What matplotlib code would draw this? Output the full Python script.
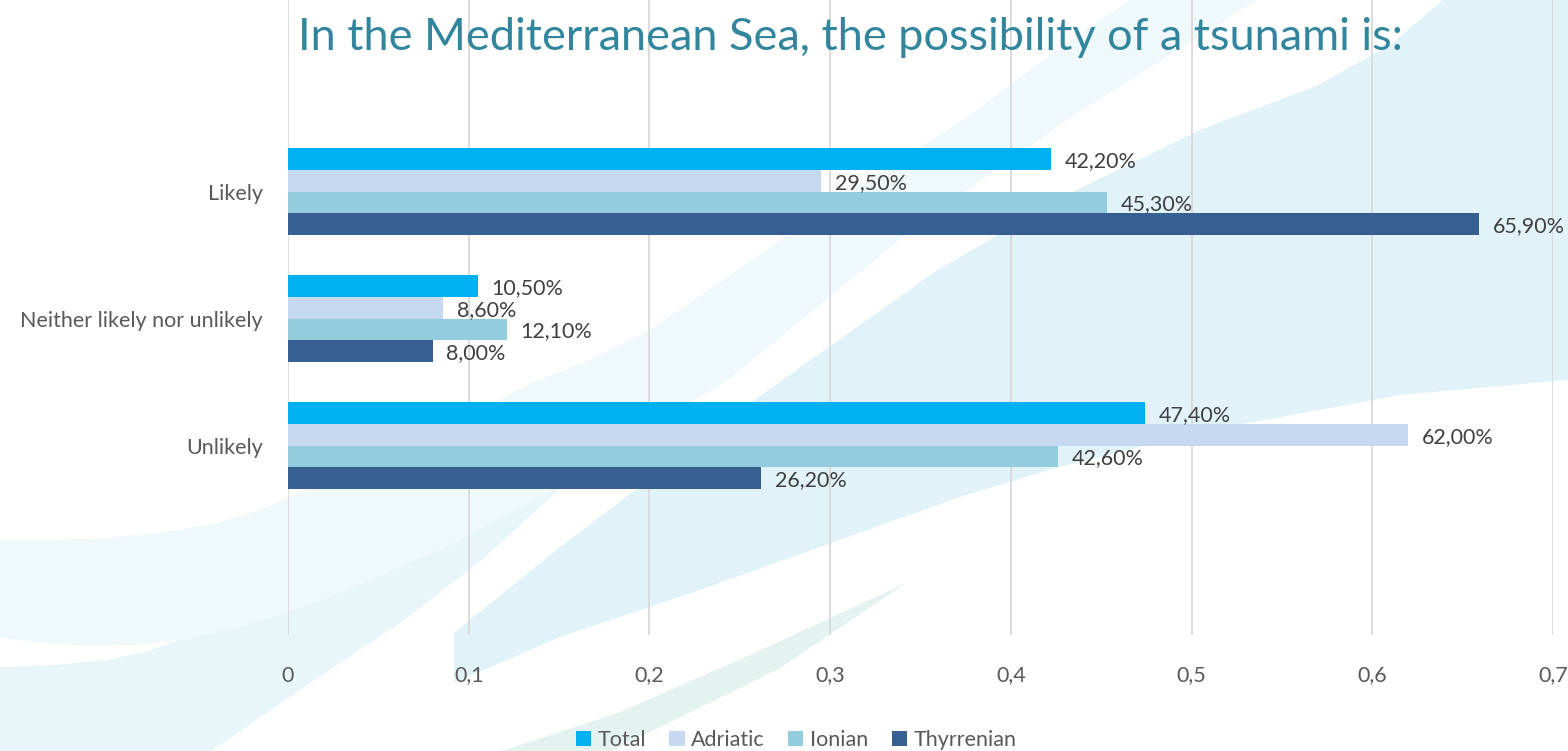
import numpy as np
import matplotlib
matplotlib.use("Agg")
import matplotlib.pyplot as plt
from matplotlib.patches import Polygon, Patch
from matplotlib.ticker import FuncFormatter

plt.rcParams['font.family'] = ['Lato', 'DejaVu Sans']

categories = ["Unlikely", "Neither likely nor unlikely", "Likely"]
series = ["Total", "Adriatic", "Ionian", "Thyrrenian"]
total = [47.4, 10.5, 42.2]
adriatic = [62.0, 8.6, 29.5]
ionian = [42.6, 12.1, 45.3]
thyrrenian = [26.2, 8.0, 65.9]
values = [total, adriatic, ionian, thyrrenian]
colors = ["#00b0f0", "#c6d9f1", "#93cddd", "#376092"]
xticks = [0, 0.1, 0.2, 0.3, 0.4, 0.5, 0.6, 0.7]

W, H = 1568, 751
fig = plt.figure(figsize=(W / 100, H / 100), dpi=100)
fig.patch.set_facecolor("white")


def px(pts):
    # pixel coords (origin top-left) -> figure fraction
    return [(x / W, 1 - y / H) for x, y in pts]


# background swooshes
upper_band = [(1130, 0), (1050, 55), (966, 118), (870, 180), (772, 246), (700, 296),
              (646, 332), (590, 360), (532, 383), (460, 420), (400, 450), (350, 472),
              (304, 490), (260, 510), (214, 524), (160, 533), (107, 538), (50, 540),
              (0, 540), (0, 638), (45, 643), (89, 646), (135, 645), (179, 640),
              (235, 628), (286, 613), (340, 593), (393, 570), (450, 545), (500, 517),
              (545, 495), (580, 470), (728, 380), (914, 228), (1070, 118), (1257, 0)]
lower_band = [(0, 667), (55, 665), (107, 660), (145, 652), (179, 640), (235, 628),
              (286, 613), (340, 593), (393, 570), (450, 545), (500, 517), (545, 495),
              (580, 470), (482, 560), (400, 623), (300, 690), (211, 751), (0, 751)]
big_sweep = [(454, 683), (454, 633), (560, 547), (750, 403), (936, 271), (1070, 193),
             (1200, 130), (1316, 86), (1390, 45), (1443, 0), (1568, 0), (1568, 380),
             (1400, 395), (1200, 432), (1056, 468), (960, 497), (700, 590), (560, 637)]
sliver = [(906, 583), (750, 655), (620, 712), (502, 751), (612, 751), (780, 668)]
for pts, c in [(upper_band, "#eff8fa"), (lower_band, "#e8f5f9"),
               (big_sweep, "#e1f3f8"), (sliver, "#e4f3f2")]:
    fig.add_artist(Polygon(px(pts), closed=True, facecolor=c, edgecolor="none",
                           transform=fig.transFigure, zorder=-1))

ax = fig.add_axes([288 / W, 1 - 635 / H, (1553 - 288) / W, 635 / H])
ax.set_facecolor("none")

y = np.arange(len(categories))
h = 0.171
offsets = [1.5 * h, 0.5 * h, -0.5 * h, -1.5 * h]
for vals, c, off, name in zip(values, colors, offsets, series):
    v = np.array(vals) / 100
    ax.barh(y + off, v, height=h, color=c, label=name, zorder=3)
    for yi, vi in zip(y, vals):
        ax.annotate(f"{vi:.2f}%".replace(".", ","), (vi / 100, yi + off),
                    xytext=(10, -1.5), textcoords="offset points", ha="left",
                    va="center", fontsize=15.5, color="#404040", zorder=5,
                    annotation_clip=False)

ax.set_xlim(0, 0.7)
ax.set_ylim(-1.492, 3.508)
ax.set_xticks(xticks)
ax.xaxis.set_major_formatter(FuncFormatter(lambda v, p: f"{v:g}".replace(".", ",")))
ax.grid(axis="x", color="#d9d9d9", linewidth=1.3, zorder=0)
ax.set_axisbelow(True)
for s in ax.spines.values():
    s.set_visible(False)
ax.tick_params(axis="x", length=0, pad=22, labelsize=15.5, labelcolor="#595959")
ax.set_yticks(y)
ax.set_yticklabels(categories)
ax.tick_params(axis="y", length=0, pad=18, labelsize=15.5, labelcolor="#595959")

fig.text(298 / W, 1 - 38 / H, "In the Mediterranean Sea, the possibility of a tsunami is:",
         fontsize=32.5, color="#31859c", ha="left", va="center")

handles = [Patch(facecolor=c, label=n) for c, n in zip(colors, series)]
fig.legend(handles=handles, loc="center", bbox_to_anchor=(796 / W, 1 - 740 / H),
           ncol=4, frameon=False, fontsize=15.5, labelcolor="#595959",
           handlelength=0.7, handleheight=0.7, handletextpad=0.3,
           columnspacing=1.1)

fig.savefig("out.png", dpi=100)
